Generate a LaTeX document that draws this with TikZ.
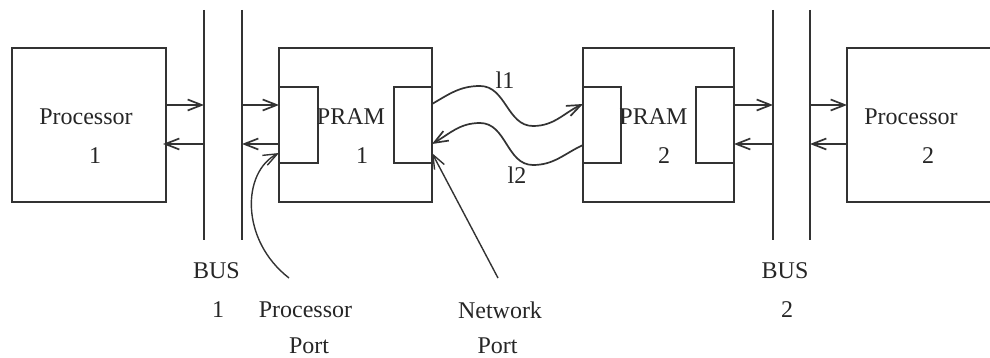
\documentclass[tikz,border=0pt]{standalone}
\usepackage{fontspec}
\setmainfont{Liberation Serif}
\usetikzlibrary{arrows.meta}
\begin{document}
\begin{tikzpicture}[x=1pt,y=-1pt,
  line width=1.7pt, draw=black!80,
  box/.style={draw, rectangle, inner sep=0pt, outer sep=0pt},
  lbl/.style={inner sep=0pt, font=\fontsize{24}{28}\selectfont, text=black!85},
  arr/.style={-{Straight Barb[length=14pt,width=11pt]}},
  busline/.style={draw, line width=1.7pt}]
\useasboundingbox (0,0) rectangle (990,358);
\clip (0,0) rectangle (990,358);
% boxes
\node[box, minimum width=154pt, minimum height=154pt] (P1) at (89,125) {};
\node[box, minimum width=153pt, minimum height=154pt] (R1) at (355.5,125) {};
\node[box, minimum width=39pt, minimum height=76pt] (pp1) at (298.5,125) {};
\node[box, minimum width=38pt, minimum height=76pt] (np1) at (413,125) {};
\node[box, minimum width=151pt, minimum height=154pt] (R2) at (658.5,125) {};
\node[box, minimum width=38pt, minimum height=76pt] (pp2) at (602,125) {};
\node[box, minimum width=38pt, minimum height=76pt] (np2) at (715,125) {};
\node[box, minimum width=160pt, minimum height=154pt] (P2) at (927,125) {};
% bus lines
\coordinate (b1L) at (204,10); \coordinate (b1Le) at (204,240);
\coordinate (b1R) at (242,10); \coordinate (b1Re) at (242,240);
\coordinate (b2L) at (773,10); \coordinate (b2Le) at (773,240);
\coordinate (b2R) at (810,10); \coordinate (b2Re) at (810,240);
\draw[busline] (b1L) -- (b1Le);
\draw[busline] (b1R) -- (b1Re);
\draw[busline] (b2L) -- (b2Le);
\draw[busline] (b2R) -- (b2Re);
\coordinate (yT) at (0,105);
\coordinate (yB) at (0,144);
% bus arrows
\draw[arr] (P1.east |- yT) -- (b1L |- yT);
\draw[arr] (b1L |- yB) -- ([xshift=-3pt]P1.east |- yB);
\draw[arr] (b1R |- yT) -- (pp1.west |- yT);
\draw[arr] (pp1.west |- yB) -- (b1R |- yB);
\draw[arr] (np2.east |- yT) -- (b2L |- yT);
\draw[arr] (b2L |- yB) -- (np2.east |- yB);
\draw[arr] (b2R |- yT) -- (P2.west |- yT);
\draw[arr] (P2.west |- yB) -- (b2R |- yB);
% texts
\node[lbl] (tP1) at (86,117) {Processor};
\node[lbl] (tP1n) at (95,156) {1};
\node[lbl] (tR1) at (351,117) {PRAM};
\node[lbl] (tR1n) at (362,156) {1};
\node[lbl] (tR2) at (653.5,117) {PRAM};
\node[lbl] (tR2n) at (664,156) {2};
\node[lbl] (tP2) at (911,117) {Processor};
\node[lbl] (tP2n) at (928,156) {2};
\node[lbl] (tB1) at (216.5,271) {BUS};
\node[lbl] (tB1n) at (218,310) {1};
\node[lbl] (tB2) at (785,271) {BUS};
\node[lbl] (tB2n) at (787,310) {2};
\node[lbl] (tPP) at (305.5,310) {Processor};
\node[lbl] (tPPp) at (309,346) {Port};
\node[lbl] (tNP) at (500,310) {Network};
\node[lbl] (tNPp) at (497.5,346) {Port};
\node[lbl] (tl1) at (505,80) {l1};
\node[lbl] (tl2) at (517,175) {l2};
% network links
\coordinate (l1a) at (480,86); \coordinate (l1b) at (533,126);
\coordinate (l2a) at (533,165); \coordinate (l2b) at (480,123);
\draw[arr] (np1.east |- 0,104) to[out=30,in=180] (l1a) to[out=0,in=180] (l1b) to[out=0,in=205] (pp2.west |- 0,104);
\draw[arr] (pp2.west |- 0,145) to[out=205,in=0] (l2a) to[out=180,in=0] (l2b) to[out=180,in=30] (np1.east |- 0,144);
% pointers
\coordinate (ppS) at (289,278);
\coordinate (npS) at (498,278);
\draw[arr, line width=1.4pt] (ppS) .. controls (240,240) and (242,172) .. (pp1.west |- 0,153);
\draw[arr, line width=1.4pt] (npS) -- (np1.east |- 0,153);
\end{tikzpicture}
\end{document}
